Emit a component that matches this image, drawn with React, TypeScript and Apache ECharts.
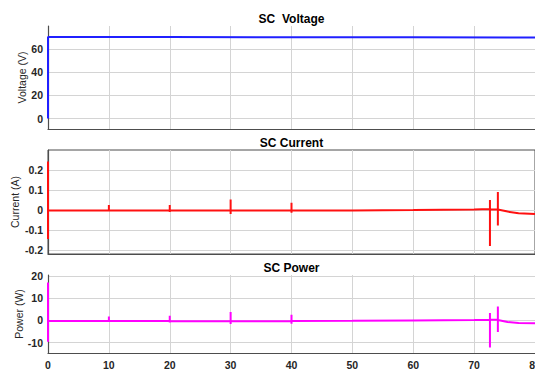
import React, { useEffect, useRef } from "react";
import * as echarts from "echarts";

// ---- Data ----
const titles = ["SC  Voltage", "SC Current", "SC Power"];
const yNames = ["Voltage (V)", "Current (A)", "Power (W)"];
const xTicks = [0, 10, 20, 30, 40, 50, 60, 70, 80];

const tVoltage = [0, 0, 0.3, 20, 40, 60, 80];
const voltage = [0, 70.5, 70.5, 70.4, 70.3, 70.2, 70.0];
const voltageTicks = [0, 20, 40, 60];

const tCurrent = [
  0, 0, 0, 0,
  10, 10, 10, 10,
  20, 20, 20, 20,
  30, 30, 30, 30,
  40, 40, 40, 40,
  50, 60, 70, 72.6, 72.6, 72.6, 72.6,
  73.9, 73.9, 73.9, 73.9, 74.3, 75.5, 77.3, 80,
];
const current = [
  0, 0.243, -0.145, -0.003,
  -0.003, 0.025, -0.003, -0.003,
  -0.003, 0.025, -0.01, -0.003,
  -0.003, 0.053, -0.02, -0.003,
  -0.003, 0.036, -0.014, -0.003,
  -0.002, 0.0, 0.003, 0.005, 0.05, -0.18, 0.004,
  0.003, 0.09, -0.078, 0.002, 0.0, -0.008, -0.016, -0.02,
];
const currentTicks = [-0.2, -0.1, 0, 0.1, 0.2];

const tPower = [
  0, 0, 0, 0,
  10, 10, 10, 10,
  20, 20, 20, 20,
  30, 30, 30, 30,
  40, 40, 40, 40,
  50, 60, 70, 72.6, 72.6, 72.6, 72.6,
  73.9, 73.9, 73.9, 73.9, 74.3, 75.5, 77.3, 80,
];
const power = [
  0, 17.1, -9.6, -0.1,
  -0.3, 1.8, -0.3, -0.3,
  -0.3, 2.1, -0.9, -0.3,
  -0.4, 3.8, -1.6, -0.4,
  -0.3, 2.6, -1.5, -0.3,
  -0.2, 0.0, 0.2, 0.3, 3.3, -12.2, 0.3,
  0.3, 6.3, -5.2, 0.2, 0.0, -0.7, -1.2, -1.3,
];
const powerTicks = [-10, 0, 10, 20];

const yRanges: [number, number][] = [
  [-9, 80],
  [-0.22, 0.3],
  [-14.7, 20.5],
];

const FONT = "'Liberation Sans', Arial, Helvetica, sans-serif";
const TEXT = "#262626";
const GRIDC = "#d4d4d4";
const AXISC = "#4d4d4d";

const pairs = (xs: number[], ys: number[]) => xs.map((x, i) => [x, ys[i]]);

export default function App() {
  const ref = useRef<HTMLDivElement>(null);
  useEffect(() => {
    if (!ref.current) return;
    const chart = echarts.init(ref.current, null, { renderer: "svg" });
    const grids = [
      { left: 48, right: 0, top: 26, height: 103, outerBoundsMode: "none", containLabel: false },
      {
        left: 48, right: 0, top: 150, height: 104, outerBoundsMode: "none", containLabel: false,
        show: true, borderColor: AXISC, borderWidth: 1,
      },
      { left: 48, right: 0, top: 275, height: 78, outerBoundsMode: "none", containLabel: false },
    ];
    const tickSets = [voltageTicks, currentTicks, powerTicks];
    const nameGaps = [21, 28, 24];
    const titleTops = [12.5, 137, 261.5];
    const option: any = {
      animation: false,
      backgroundColor: "#ffffff",
      title: titles.map((t, i) => ({
        text: t,
        left: 291.5,
        top: titleTops[i],
        textAlign: "center",
        padding: 0,
        textStyle: { fontFamily: FONT, fontSize: 12, fontWeight: "bold", color: "#000" },
      })),
      grid: grids,
      xAxis: grids.map((_, i) => ({
        type: "value",
        gridIndex: i,
        min: xTicks[0],
        max: xTicks[xTicks.length - 1],
        interval: 10,
        axisLine: { show: true, onZero: false, lineStyle: { color: AXISC, width: 1.2 } },
        axisTick: { show: false },
        axisLabel: {
          show: i === 2,
          margin: 6,
          fontFamily: FONT,
          fontSize: 10.5,
          fontWeight: "bold",
          color: TEXT,
          showMaxLabel: true,
          showMinLabel: true,
        },
        splitLine: { show: true, lineStyle: { color: GRIDC, width: 1 } },
      })),
      yAxis: grids.map((_, i) => ({
        type: "value",
        gridIndex: i,
        min: yRanges[i][0],
        max: yRanges[i][1],
        name: yNames[i],
        nameLocation: "middle",
        nameGap: nameGaps[i],
        nameMoveOverlap: false,
        nameTextStyle: { fontFamily: FONT, fontSize: 10.5, color: TEXT },
        axisLine: { show: true, onZero: false, lineStyle: { color: AXISC, width: 1.2 } },
        axisTick: { show: false, customValues: tickSets[i] },
        axisLabel: {
          customValues: tickSets[i],
          margin: 5,
          fontFamily: FONT,
          fontSize: 10.5,
          fontWeight: "bold",
          color: TEXT,
          formatter: (v: number) => (i === 1 ? (Math.abs(v) < 1e-9 ? "0" : v.toFixed(1)) : String(Math.round(v))),
        },
        splitLine: { show: true, lineStyle: { color: GRIDC, width: 1 } },
      })),
      series: [
        {
          type: "line",
          xAxisIndex: 0,
          yAxisIndex: 0,
          data: pairs(tVoltage, voltage),
          showSymbol: false,
          lineStyle: { color: "#2020ff", width: 2 },
          itemStyle: { color: "#2020ff" },
        },
        {
          type: "line",
          xAxisIndex: 1,
          yAxisIndex: 1,
          data: pairs(tCurrent, current),
          showSymbol: false,
          lineStyle: { color: "#ff1010", width: 2 },
          itemStyle: { color: "#ff1010" },
        },
        {
          type: "line",
          xAxisIndex: 2,
          yAxisIndex: 2,
          data: pairs(tPower, power),
          showSymbol: false,
          lineStyle: { color: "#ff00ff", width: 2 },
          itemStyle: { color: "#ff00ff" },
        },
      ],
    };
    chart.setOption(option);
    return () => chart.dispose();
  }, []);
  return (
    <div
      ref={ref}
      style={{ position: "fixed", left: 0, top: 0, width: 535, height: 370, background: "#fff" }}
    />
  );
}
